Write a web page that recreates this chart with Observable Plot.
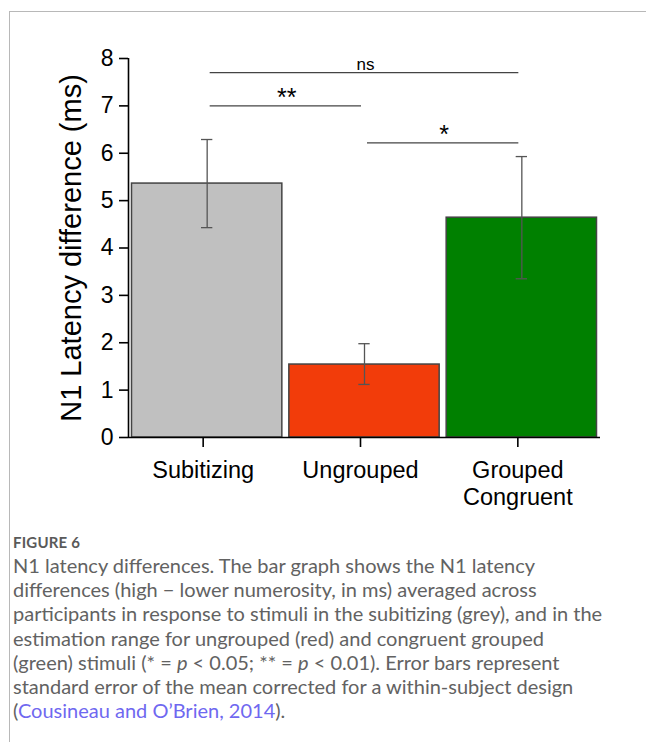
<!DOCTYPE html>
<html>
<head>
<meta charset="utf-8">
<script src="https://cdn.jsdelivr.net/npm/d3@7"></script>
<script src="https://cdn.jsdelivr.net/npm/@observablehq/plot@0.6"></script>
<style>
  html, body { margin: 0; padding: 0; background: #fff; }
  body { width: 646px; height: 742px; position: relative; overflow: hidden; }
  #card { position: absolute; left: 9px; top: 11px; width: 700px; height: 800px;
          border-left: 1px solid #b8b8b8; border-top: 1px solid #b8b8b8; }
  #chart { position: absolute; left: 0; top: 0; }
  #figlabel { position: absolute; left: 13px; top: 533px; font-family: Lato, "Open Sans", sans-serif;
              font-weight: 700; font-size: 15px; line-height: 18px; color: #5a5a5a; letter-spacing: 0.2px; }
  #caption { position: absolute; left: 13px; top: 553px; width: 640px; font-family: Lato, "Open Sans", sans-serif;
             font-weight: 400; font-size: 20px; line-height: 24.2px; color: #626262; white-space: nowrap; letter-spacing: 0px; }
  #caption a { color: #6f68f0; text-decoration: none; }
</style>
</head>
<body>
<div id="card"></div>
<div id="chart"></div>
<div id="figlabel">FIGURE 6</div>
<div id="caption">N1 latency differences. The bar graph shows the N1 latency<br>differences (high − lower numerosity, in ms) averaged across<br>participants in response to stimuli in the subitizing (grey), and in the<br>estimation range for ungrouped (red) and congruent grouped<br>(green) stimuli (* = <i>p</i> &lt; 0.05; ** = <i>p</i> &lt; 0.01). Error bars represent<br>standard error of the mean corrected for a within-subject design<br>(<a>Cousineau and O’Brien, 2014</a>).</div>
<script>
// ---- data ----
const categories = ["Subitizing", "Ungrouped", "Grouped\nCongruent"];
const means = [5.36, 1.54, 4.64];
const errLow = [4.43, 1.12, 3.35];
const errHigh = [6.29, 1.98, 5.93];
const barColors = ["#c0c0c0", "#f23c0a", "#008000"];
const sigFrom = [0, 0, 1];
const sigTo = [2, 1, 2];
const sigY = [7.70, 7.00, 6.22];
const sigLabels = ["ns", "**", "*"];
const yTicks = [0, 1, 2, 3, 4, 5, 6, 7, 8];
const yLabel = "N1 Latency difference (ms)";

const bars = categories.map((c, i) => ({i, cat: c, mean: means[i], lo: errLow[i], hi: errHigh[i], color: barColors[i]}));
const sig = sigLabels.map((l, k) => ({from: sigFrom[k], to: sigTo[k], y: sigY[k], label: l}));
const capHalf = 0.036;

const chart = Plot.plot({
  width: 646,
  height: 525,
  marginLeft: 128,
  marginRight: 46,
  marginTop: 58,
  marginBottom: 88,
  x: {domain: [-0.5, 2.5], axis: null},
  y: {domain: [0, 8], axis: null},
  style: {fontFamily: "'Liberation Sans', Arial, sans-serif", color: "#000", background: "transparent", overflow: "visible"},
  marks: [
    Plot.rectY(bars, {x1: d => d.i - 0.5, x2: d => d.i + 0.5, y1: 0, y2: "mean", fill: "color",
      stroke: "#444", strokeWidth: 1.5, insetLeft: 3.5, insetRight: 3.5}),
    Plot.ruleX(bars, {x: "i", y1: "lo", y2: "hi", stroke: "#555", strokeWidth: 1.3}),
    Plot.ruleY(bars, {y: "lo", x1: d => d.i - capHalf, x2: d => d.i + capHalf, stroke: "#555", strokeWidth: 1.3}),
    Plot.ruleY(bars, {y: "hi", x1: d => d.i - capHalf, x2: d => d.i + capHalf, stroke: "#555", strokeWidth: 1.3}),
    Plot.ruleY(sig, {y: "y", x1: "from", x2: "to", stroke: "#444", strokeWidth: 1.2, insetLeft: 3, insetRight: 3}),
    Plot.text(sig, {x: d => (d.from + d.to) / 2, y: "y", text: "label", dy: -8, dx: 1,
      fontSize: d => d.label === "ns" ? 17 : 25, fill: "#000"}),
    Plot.ruleY([0], {stroke: "#000", strokeWidth: 1.6}),
    Plot.ruleX([-0.5], {stroke: "#000", strokeWidth: 1.6}),
    Plot.axisY({ticks: yTicks, tickSize: 9, tickPadding: 6, fontSize: 23, label: null, strokeWidth: 1.6}),
    Plot.axisY({ticks: [], tickSize: 0, fontSize: 29, label: yLabel, labelAnchor: "center", labelArrow: "none", labelOffset: 68}),
    Plot.axisX({ticks: [0, 1, 2], tickFormat: i => categories[i], tickSize: 10, tickPadding: 11, dx: -4,
      fontSize: 23.5, lineHeight: 1.15, label: null, strokeWidth: 1.6})
  ]
});
document.getElementById("chart").appendChild(chart);
</script>
</body>
</html>
